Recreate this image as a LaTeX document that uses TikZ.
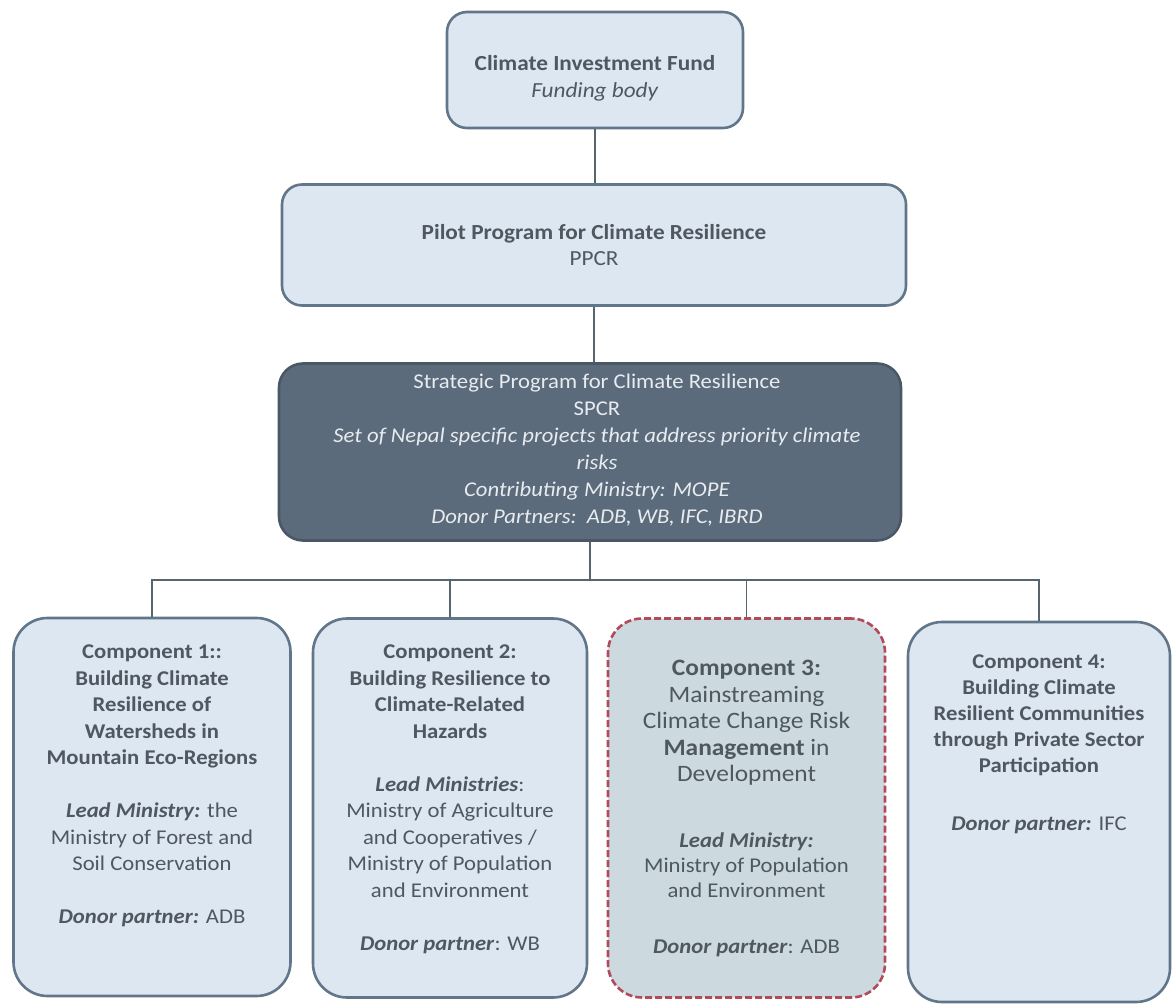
\documentclass[tikz,border=0pt]{standalone}
\usepackage{fontspec}
\setmainfont{Carlito}[FakeStretch=1.08]
\definecolor{boxfill}{HTML}{DDE7F1}
\definecolor{boxline}{HTML}{62768A}
\definecolor{txt}{HTML}{4F5860}
\definecolor{darkfill}{HTML}{5B6B7B}
\definecolor{darkline}{HTML}{4A5866}
\definecolor{darktxt}{HTML}{E8ECF0}
\definecolor{cthreefill}{HTML}{CCD9DE}
\definecolor{cthreeline}{HTML}{B34A5C}
\definecolor{conn}{HTML}{56656E}
\begin{document}
\begin{tikzpicture}[x=1pt,y=-1pt,
  lightbox/.style={draw=boxline, line width=2.6pt, fill=boxfill, rounded corners=#1, inner sep=0pt},
  lightbox/.default=20pt,
  darkbox/.style={draw=darkline, line width=2.6pt, fill=darkfill, rounded corners=24pt, inner sep=0pt},
  redbox/.style={draw=cthreeline, line width=2.6pt, dashed, dash pattern=on 7pt off 3pt, fill=cthreefill, rounded corners=34pt, inner sep=0pt},
  txtnode/.style={inner sep=0pt, align=center, text=txt},
  conline/.style={draw=conn, line width=1.3pt}]
\useasboundingbox (0,0) rectangle (1176,1006);
\fill[white] (0,0) rectangle (1176,1006);

% boxes
\node[lightbox=20pt, minimum width=296pt, minimum height=116pt] (cif) at (595,70) {};
\node[lightbox=20pt, minimum width=624pt, minimum height=121pt] (ppcr) at (594,245) {};
\node[darkbox, minimum width=622pt, minimum height=177pt] (spcr) at (590,452) {};
\node[lightbox=34pt, minimum width=277pt, minimum height=378pt] (c1) at (152,807) {};
\node[lightbox=34pt, minimum width=274pt, minimum height=379pt] (c2) at (450,808) {};
\node[redbox, minimum width=277pt, minimum height=379pt] (c3) at (746.5,808) {};
\node[lightbox=34pt, minimum width=262pt, minimum height=380pt] (c4) at (1039,812) {};

% connectors
\coordinate (bus) at (590,580);
\draw[conline] (cif.south) -- (cif.south |- ppcr.north);
\draw[conline] (ppcr.south) -- (ppcr.south |- spcr.north);
\draw[conline] (spcr.south) -- (spcr.south |- bus);
\draw[conline] (c1.north) |- (bus) -| (c4.north);
\draw[conline] (c2.north) -- (c2.north |- bus);
\draw[conline] (c3.north) -- (c3.north |- bus);

% texts
\node[txtnode, font=\fontsize{21.5}{27}\selectfont] (ciftext) at (595,78)
  {\textbf{Climate Investment Fund}\\\textit{Funding body}};
\node[txtnode, font=\fontsize{21.5}{26}\selectfont] (ppcrtext) at (594,245)
  {\textbf{Pilot Program for Climate Resilience}\\PPCR};
\node[txtnode, text=darktxt, font=\fontsize{21}{27}\selectfont] (spcrtext) at (597,450)
  {Strategic Program for Climate Resilience\\SPCR\\
   \textit{Set of Nepal specific projects that address priority climate}\\
   \textit{risks}\\
   \textit{Contributing Ministry: MOPE}\\
   \textit{Donor Partners:\ \ ADB, WB, IFC, IBRD}};

\node[txtnode, anchor=north, font=\fontsize{21}{26.5}\selectfont] (c1text) at (152,645)
  {\textbf{Component 1::}\\\textbf{Building Climate}\\\textbf{Resilience of}\\
   \textbf{Watersheds in}\\\textbf{Mountain Eco-Regions}\\[26.5pt]
   \textbf{\textit{Lead Ministry:}} the\\Ministry of Forest and\\Soil Conservation\\[26.5pt]
   \textbf{\textit{Donor partner:}} ADB};
\node[txtnode, anchor=north, font=\fontsize{21}{26.5}\selectfont] (c2text) at (450,645)
  {\textbf{Component 2:}\\\textbf{Building Resilience to}\\\textbf{Climate-Related}\\
   \textbf{Hazards}\\[26.5pt]
   \textbf{\textit{Lead Ministries}}:\\Ministry of Agriculture\\and Cooperatives /\\
   Ministry of Population\\and Environment\\[26.5pt]
   \textbf{\textit{Donor partner}}: WB};
\node[txtnode, anchor=north, font=\fontsize{23.5}{26.5}\selectfont] (c3text) at (746.5,660)
  {\textbf{Component 3:}\\Mainstreaming\\Climate Change Risk\\\textbf{Management} in\\Development};
\node[txtnode, anchor=north, font=\fontsize{21}{25}\selectfont] (c3text2) at (746.5,833)
  {\textbf{\textit{Lead Ministry:}}\\Ministry of Population\\and Environment\\[31pt]
   \textbf{\textit{Donor partner}}: ADB};
\node[txtnode, anchor=north, font=\fontsize{21}{26}\selectfont] (c4text) at (1039,655)
  {\textbf{Component 4:}\\\textbf{Building Climate}\\\textbf{Resilient Communities}\\
   \textbf{through Private Sector}\\\textbf{Participation}\\[32pt]
   \textbf{\textit{Donor partner:}} IFC};
\end{tikzpicture}
\end{document}
